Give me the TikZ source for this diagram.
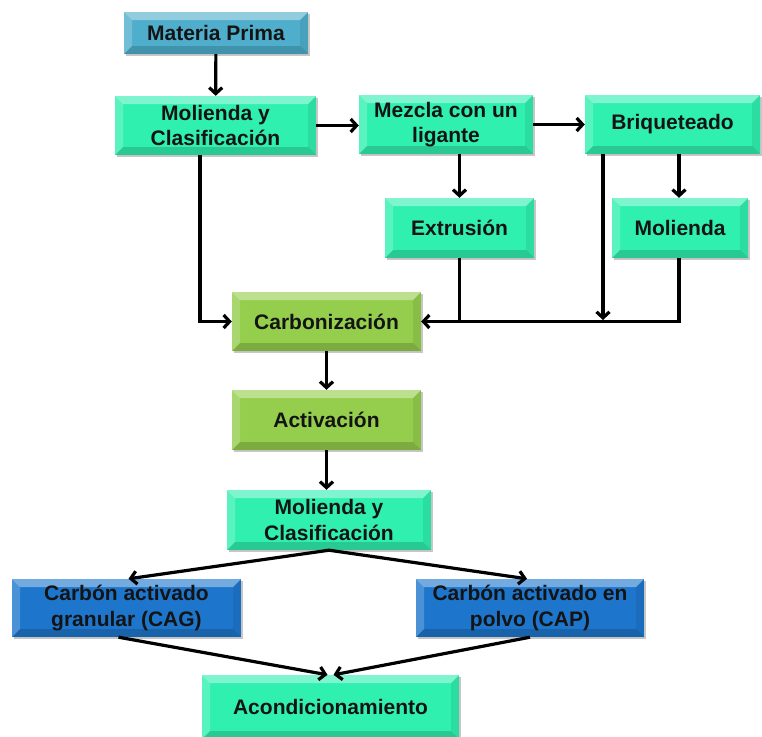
\documentclass[tikz,border=0pt]{standalone}
\usepackage{fontspec}
\setmainfont{Liberation Sans}
\usetikzlibrary{arrows.meta,shadows,calc}

\definecolor{mint}{RGB}{48,240,176}
\definecolor{teal}{RGB}{78,174,204}
\definecolor{leaf}{RGB}{148,206,76}
\definecolor{royal}{RGB}{30,118,204}
\definecolor{ink}{RGB}{20,20,20}

\tikzset{
  % bevelled box: lit top/left facets, darker bottom/right facets
  bevel/.style={path picture={
    \coordinate (bsw) at (path picture bounding box.south west);
    \coordinate (bne) at (path picture bounding box.north east);
    \coordinate (bnw) at (path picture bounding box.north west);
    \coordinate (bse) at (path picture bounding box.south east);
    \fill[white,opacity=0.38] (bnw) -- (bne) -- ([shift={(-8pt,-8pt)}]bne) -- ([shift={(8pt,-8pt)}]bnw) -- cycle;
    \fill[white,opacity=0.20] (bnw) -- (bsw) -- ([shift={(8pt,8pt)}]bsw) -- ([shift={(8pt,-8pt)}]bnw) -- cycle;
    \fill[black,opacity=0.16] (bsw) -- (bse) -- ([shift={(-8pt,8pt)}]bse) -- ([shift={(8pt,8pt)}]bsw) -- cycle;
    \fill[black,opacity=0.08] (bse) -- (bne) -- ([shift={(-8pt,-8pt)}]bne) -- ([shift={(-8pt,8pt)}]bse) -- cycle;
  }},
  box/.style={rectangle, inner sep=0pt, align=center, text=ink,
    font=\fontsize{21}{25.5}\selectfont\bfseries, bevel,
    drop shadow={shadow xshift=2pt,shadow yshift=-2pt,fill=black,opacity=0.22}},
  mintbox/.style={box, fill=mint},
  tealbox/.style={box, fill=teal},
  leafbox/.style={box, fill=leaf},
  bluebox/.style={box, fill=royal},
  arr/.style={line width=3.2pt, draw=black,
    -{Straight Barb[length=6pt,width=13pt]}},
  ln/.style={line width=3.2pt, draw=black},
}

\begin{document}
\begin{tikzpicture}[x=1pt,y=-1pt]
\useasboundingbox (0,0) rectangle (762,736);

% process boxes
\node[tealbox, minimum width=184pt, minimum height=42pt] (mp) at (216,33) {Materia Prima};
\node[mintbox, minimum width=201pt, minimum height=59pt] (m1) at (215.5,125.5) {Molienda y\\Clasificación};
\node[mintbox, minimum width=174pt, minimum height=59pt] (mez) at (446,124.5) {Mezcla con un\\ligante};
\node[mintbox, minimum width=175pt, minimum height=59pt] (briq) at (672.5,124.5) {Briqueteado};
\node[mintbox, minimum width=149pt, minimum height=60pt] (ext) at (459.5,228) {Extrusión};
\node[mintbox, minimum width=136pt, minimum height=60pt] (mol) at (680,228) {Molienda};
\node[leafbox, minimum width=189pt, minimum height=59pt] (carb) at (326.5,321.5) {Carbonización};
\node[leafbox, minimum width=189pt, minimum height=60pt] (act) at (326.5,420) {Activación};
\node[mintbox, minimum width=204pt, minimum height=60pt] (m2) at (329,520) {Molienda y\\Clasificación};
\node[bluebox, minimum width=229pt, minimum height=58pt] (cag) at (126.5,608) {Carbón activado\\granular (CAG)};
\node[bluebox, minimum width=228pt, minimum height=58pt] (cap) at (530,608) {Carbón activado en\\polvo (CAP)};
\node[mintbox, minimum width=257pt, minimum height=64pt] (acond) at (330.5,707) {Acondicionamiento};

\coordinate (jb) at (603,320);

% connectors
\draw[arr] (mp) -- (m1);
\draw[arr] (m1.east) -- (m1.east -| mez.west);
\draw[arr] (mez) -- (briq);
\draw[arr] ([xshift=-15.5pt]m1.south) |- (carb.west);
\draw[arr] (ext.north |- mez.south) -- (ext.north);
\draw[arr] ([xshift=-1pt]mol.north |- briq.south) -- ([xshift=-1pt]mol.north);
\draw[arr] (jb |- briq.south) -- (jb);
\draw[ln] (ext.south) -- (ext.south |- carb.east);
\draw[arr] ([xshift=-1pt]mol.south) |- (carb.east);
\draw[arr] (carb) -- (act);
\draw[arr] (act.south) -- (act.south |- m2.north);
\draw[arr] (m2.south) -- ([xshift=2pt]cag.north);
\draw[arr] (m2.south) -- ([xshift=-3pt]cap.north);
\draw[arr] ([xshift=-8pt]cag.south) -- ([xshift=-3pt]acond.north);
\draw[arr] (cap.south) -- ([xshift=3pt]acond.north);
\end{tikzpicture}
\end{document}
